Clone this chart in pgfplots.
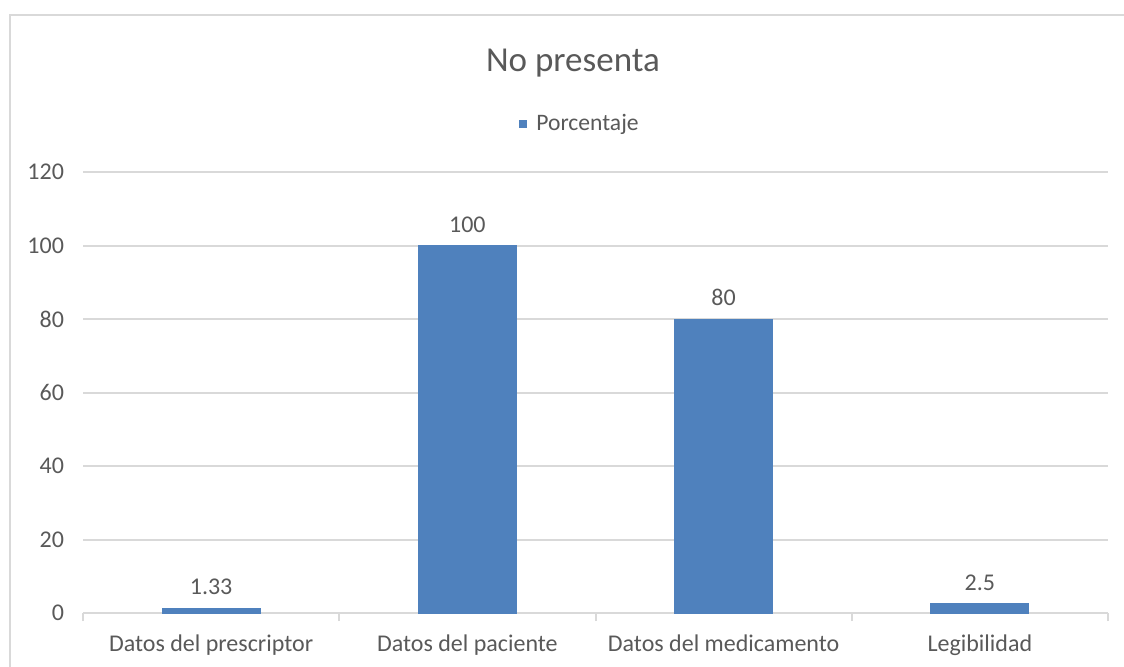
\documentclass[border=0pt]{standalone}
\usepackage{fontspec}
\setmainfont{Carlito}
\usepackage{pgfplots}
\pgfplotsset{compat=1.18}
\definecolor{barblue}{HTML}{4F81BD}
\definecolor{txtgray}{HTML}{595959}
\definecolor{gridgray}{HTML}{D9D9D9}

\begin{document}
\begin{tikzpicture}
\path[use as bounding box] (0pt,0pt) rectangle (562pt,333pt);
% chart frame
\draw[gridgray, line width=1pt] (5pt,-10pt) rectangle (570pt,325.5pt);
\node[txtgray, font=\fontsize{17.5}{20}\selectfont] at (286.5pt,301.5pt) {No presenta};
\fill[barblue] (259.5pt,269pt) rectangle (263.5pt,273pt);
\node[txtgray, font=\fontsize{11.8}{14}\selectfont, anchor=west, inner sep=0pt] at (268pt,271pt) {Porcentaje};

\begin{axis}[
    at={(41.5pt,26.5pt)}, anchor=south west,
    scale only axis,
    width=512.5pt, height=220.5pt,
    xmin=-0.5, xmax=3.5,
    ymin=0, ymax=120,
    ytick={0,20,...,120},
    xtick={0,1,2,3},
    xticklabels={Datos del prescriptor, Datos del paciente, Datos del medicamento, Legibilidad},
    minor xtick={-0.5,0.5,1.5,2.5,3.5},
    major tick length=0pt,
    minor tick length=4pt,
    tick align=outside,
    minor tick style={gridgray, line width=1pt},
    ymajorgrids,
    grid style={gridgray, line width=1pt},
    separate axis lines,
    axis x line*=bottom,
    axis y line*=left,
    x axis line style={gridgray, line width=1pt, -},
    y axis line style={draw=none},
    tick label style={txtgray, font=\fontsize{12}{14}\selectfont},
    /pgf/number format/assume math mode=true,
    xticklabel style={yshift=-7.5pt},
    yticklabel style={xshift=-6pt},
    ytick style={draw=none},
]
\addplot[ybar, bar width=49pt, fill=barblue, draw=barblue,
    nodes near coords,
    every node near coord/.append style={txtgray, font=\fontsize{12}{14}\selectfont, yshift=3pt},
] coordinates {(0,1.33) (1,100) (2,80) (3,2.5)};
\end{axis}
\end{tikzpicture}
\end{document}
